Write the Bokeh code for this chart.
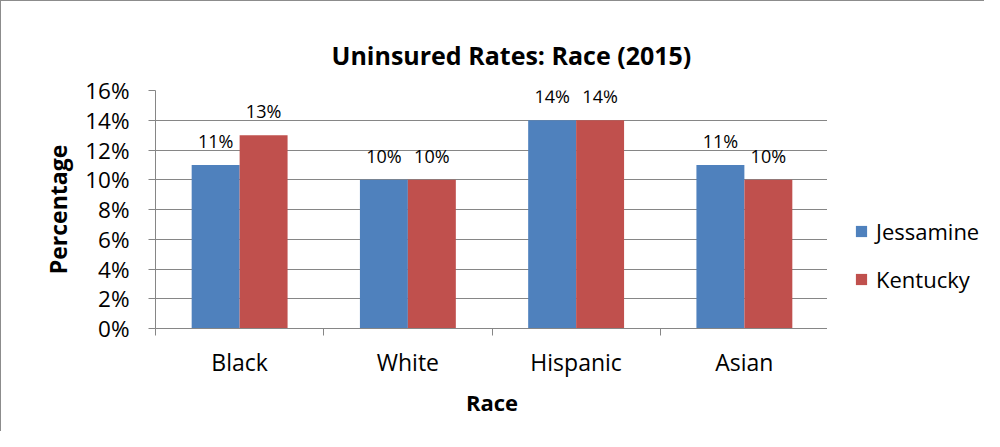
import numpy as np
from bokeh.plotting import figure
from bokeh.layouts import row
from bokeh.models import (ColumnDataSource, FixedTicker, PrintfTickFormatter,
                          Legend, LegendItem, Range1d, Title)
from bokeh.core.properties import value
from bokeh.embed import file_html
from bokeh.resources import INLINE

categories = ["Black", "White", "Hispanic", "Asian"]
jessamine = [11, 10, 14, 11]
kentucky = [13, 10, 14, 10]
y_ticks = [0, 2, 4, 6, 8, 10, 12, 14, 16]
series_names = ["Jessamine", "Kentucky"]

FONT = "Open Sans"
GRID = "#868686"
BORDER = "1px solid #8c8c8c"
BLUE = "#4F81BD"
RED = "#C0504D"

xc = np.arange(len(categories)) + 0.5
bw = 0.285

src = ColumnDataSource(dict(
    xj=xc - bw / 2, xk=xc + bw / 2,
    j=jessamine, k=kentucky,
    jl=[f"{v}%" for v in jessamine], kl=[f"{v}%" for v in kentucky],
))

p = figure(width=827, height=431, output_backend="svg", toolbar_location=None,
           x_range=Range1d(0, len(categories)), y_range=Range1d(0, 16))
p.styles = {"border-top": BORDER, "border-left": BORDER, "box-sizing": "border-box"}
p.min_border_left = 154
p.min_border_right = 0
p.min_border_top = 89
p.min_border_bottom = 104
p.outline_line_color = None
p.background_fill_color = "white"
p.border_fill_color = "white"

p.title = Title(text="Uninsured Rates: Race (2015)", align="left",
                text_font=FONT, text_font_size="25px", text_font_style="bold",
                text_color="black", offset=176, standoff=38)

rj = p.vbar(x="xj", top="j", width=bw, source=src, fill_color=BLUE, line_color=None)
rk = p.vbar(x="xk", top="k", width=bw, source=src, fill_color=RED, line_color=None)

for xcol, ycol, lcol in [("xj", "j", "jl"), ("xk", "k", "kl")]:
    p.text(x=xcol, y=ycol, text=lcol, source=src, text_align="center",
           text_baseline="bottom", y_offset=-12, text_font=value(FONT),
           text_font_size="18px", text_color="black")

# y axis
yax = p.yaxis[0]
yax.ticker = FixedTicker(ticks=y_ticks)
yax.formatter = PrintfTickFormatter(format="%d%%")
yax.major_label_text_font = FONT
yax.major_label_text_font_size = "22.5px"
yax.major_label_text_color = "black"
yax.major_tick_out = 7
yax.major_tick_in = 0
yax.minor_tick_out = 0
yax.minor_tick_in = 0
yax.major_tick_line_color = GRID
yax.axis_line_color = GRID
yax.major_label_standoff = 19
yax.axis_label = "Percentage"
yax.axis_label_text_font = FONT
yax.axis_label_text_font_size = "23px"
yax.axis_label_text_font_style = "bold"
yax.axis_label_text_color = "black"
yax.axis_label_standoff = 8

# x axis
xax = p.xaxis[0]
xax.ticker = FixedTicker(ticks=list(xc), minor_ticks=list(range(len(categories) + 1)))
xax.major_label_overrides = {float(x): c for x, c in zip(xc, categories)}
xax.major_label_text_font = FONT
xax.major_label_text_font_size = "23px"
xax.major_label_text_color = "black"
xax.major_tick_out = 0
xax.major_tick_in = 0
xax.minor_tick_out = 7
xax.minor_tick_in = 0
xax.minor_tick_line_color = GRID
xax.axis_line_color = GRID
xax.major_label_standoff = 10
xax.axis_label = "Race"
xax.axis_label_text_font = FONT
xax.axis_label_text_font_size = "22px"
xax.axis_label_text_font_style = "bold"
xax.axis_label_text_color = "black"
xax.axis_label_standoff = 6

p.xgrid.grid_line_color = None
p.ygrid.grid_line_color = GRID
p.ygrid.grid_line_width = 1

# legend panel (separate figure to the right of the plot area)
lf = figure(width=157, height=431, output_backend="svg", toolbar_location=None,
            x_range=Range1d(100, 101), y_range=Range1d(100, 101),
            x_axis_type=None, y_axis_type=None)
lf.styles = {"border-top": BORDER, "box-sizing": "border-box"}
lf.min_border = 0
lf.outline_line_color = None
lf.xgrid.visible = False
lf.ygrid.visible = False
lj = lf.vbar(x="xj", top="j", width=bw, source=src, fill_color=BLUE, line_color=None,
             visible=False)
lk = lf.vbar(x="xk", top="k", width=bw, source=src, fill_color=RED, line_color=None,
             visible=False)

legend = Legend(items=[LegendItem(label=series_names[0], renderers=[lj]),
                       LegendItem(label=series_names[1], renderers=[lk])],
                location=(27, 34), label_text_font=FONT, label_text_font_size="22px",
                label_text_color="black", glyph_width=14, glyph_height=14,
                label_height=26, spacing=18, border_line_color=None,
                background_fill_alpha=0, padding=0, margin=0, label_standoff=8,
                inactive_fill_alpha=0)
lf.add_layout(legend, "center")

layout = row(p, lf, spacing=0)
open("out.html", "w").write(file_html(layout, INLINE))
